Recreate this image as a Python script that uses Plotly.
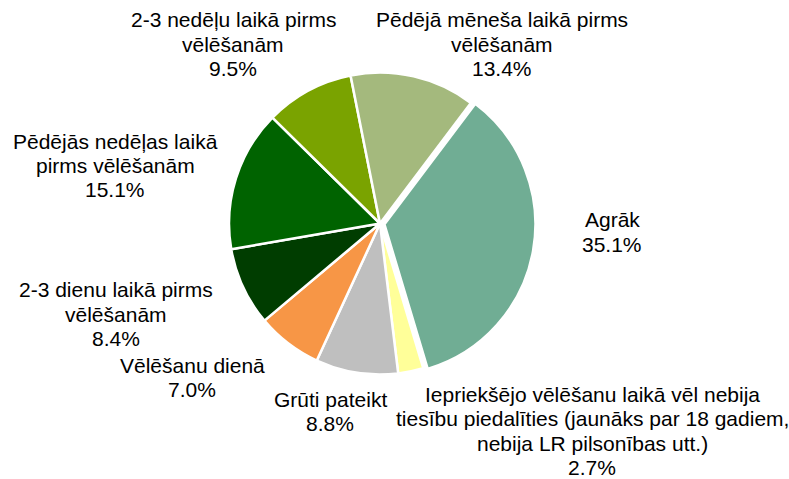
import plotly.graph_objects as go

# ---- data ----
labels = [
    "Agrāk",
    "Iepriekšējo vēlēšanu laikā vēl nebija\ntiesību piedalīties (jaunāks par 18 gadiem,\nnebija LR pilsonības utt.)",
    "Grūti pateikt",
    "Vēlēšanu dienā",
    "2-3 dienu laikā pirms\nvēlēšanām",
    "Pēdējās nedēļas laikā\npirms vēlēšanām",
    "2-3 nedēļu laikā pirms\nvēlēšanām",
    "Pēdējā mēneša laikā pirms\nvēlēšanām",
]
values = [35.1, 2.7, 8.8, 7.0, 8.4, 15.1, 9.5, 13.4]
colors = ["#70AD94", "#FFFF99", "#BFBFBF", "#F79646", "#003D00", "#006300", "#7AA300", "#A4B97D"]
pulls = [0.03, 0, 0, 0, 0, 0, 0, 0]

# ---- layout helpers ----
W, H = 789, 479
FONT = "Arial, Liberation Sans, sans-serif"
FS = 21
LINE = 24.5
# label block anchors: (center x px, first-line baseline y px)
anchors = [
    (612, 226.5),
    (592, 401),
    (330, 406),
    (192, 372),
    (116, 296.5),
    (115, 148),
    (233, 26.5),
    (502, 26.5),
]

fig = go.Figure(go.Pie(
    labels=[l.replace("\n", " ") for l in labels],
    values=values,
    marker=dict(colors=colors, line=dict(color="white", width=2.5)),
    pull=pulls,
    sort=False,
    direction="clockwise",
    rotation=37,
    textinfo="none",
    hoverinfo="label+percent",
    showlegend=False,
    domain=dict(x=[224.5 / W, 535.5 / W], y=[100 / H, 411 / H]),
))

annotations = []
for lab, val, (cx, by) in zip(labels, values, anchors):
    lines = lab.split("\n") + [f"{val:.1f}%"]
    for i, t in enumerate(lines):
        yb = by + i * LINE
        annotations.append(dict(
            x=cx / W, y=1 - (yb - 7) / H, xref="paper", yref="paper",
            text=t, showarrow=False, xanchor="center", yanchor="middle",
            font=dict(family=FONT, size=FS, color="#000000"),
        ))

fig.update_layout(
    width=W, height=H,
    margin=dict(l=0, r=0, t=0, b=0),
    paper_bgcolor="white", plot_bgcolor="white",
    annotations=annotations,
)

fig.write_html(
    "out.html",
    config={"displayModeBar": False},
    post_script="document.body.style.margin='0';document.body.style.overflow='hidden';",
)
